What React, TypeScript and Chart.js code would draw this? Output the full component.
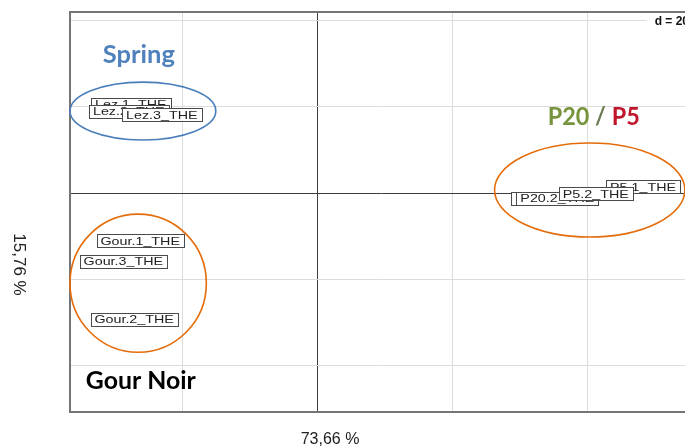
import React, { useEffect, useRef } from "react";
import { Chart, registerables } from "chart.js";

Chart.register(...registerables);

// ---- data ----
const sampleLabels = [
  "Lez.1_THE", "Lez.2_THE", "Lez.3_THE",
  "Gour.1_THE", "Gour.2_THE", "Gour.3_THE",
  "P20.1_THE", "P20.2_THE", "P5.1_THE", "P5.2_THE",
];
const xValues = [-27.6, -27.9, -23.0, -26.2, -27.1, -28.7, 34.8, 35.6, 48.3, 41.3];
const yValues = [20.6, 19.0, 18.1, -11.1, -29.2, -15.8, -1.2, -1.2, 1.4, -0.2];

const groupCenterX = [-25.8, -26.5, 40.4];
const groupCenterY = [19.0, -20.9, 0.7];
const groupRadiusX = [10.8, 10.1, 14.1];
const groupRadiusY = [6.7, 16.0, 10.9];
const groupColors = ["#4a7ebb", "#e46c0a", "#e46c0a"];

const titleTextX = [-26.4, -26.1, 41.0];
const titleTextY = [30.1, -45.4, 15.8];
const titleWidths = [72, 110, 92];
const titleSegments: [string, string][][] = [
  [["Spring", "#4f81bd"]],
  [["Gour Noir", "#000000"]],
  [["P20", "#77933c"], [" / ", "#6b7d52"], ["P5", "#c0162c"]],
];

const gridTicksX = [-20, 0, 20, 40];
const gridTicksY = [-40, -20, 0, 20, 40];
const xMin = -36.6, xMax = 55.7;
const yMin = -50.75, yMax = 41.95;

const xAxisTitle = "73,66 %";
const yAxisTitle = "15,76 %";
const gridLabel = "d = 20";

const LABEL_STRETCH = 1.3;

const overlayPlugin = {
  id: "overlay",
  beforeDatasetsDraw(chart: any) {
    const { ctx, chartArea } = chart;
    // d = 20 box at top right
    ctx.save();
    ctx.font = 'bold 12px "Liberation Sans", Arial, sans-serif';
    const tw = ctx.measureText(gridLabel).width;
    const yTop = chart.scales.y.getPixelForValue(40);
    const right = chartArea.right - 4;
    ctx.fillStyle = "#ffffff";
    ctx.fillRect(right - tw - 8, yTop - 6, tw + 10, 13);
    ctx.fillStyle = "#111";
    ctx.textAlign = "right";
    ctx.textBaseline = "middle";
    ctx.fillText(gridLabel, right, yTop + 1);
    ctx.restore();
  },
  afterDatasetsDraw(chart: any) {
    const { ctx, chartArea } = chart;
    const xs = chart.scales.x;
    const ys = chart.scales.y;
    const meta = chart.getDatasetMeta(0);
    ctx.save();
    // label boxes
    meta.data.forEach((pt: any, i: number) => {
      const text = sampleLabels[i];
      ctx.font = '11px "Liberation Sans", Arial, sans-serif';
      const w = ctx.measureText(text).width * LABEL_STRETCH;
      const bw = Math.round(w + 8);
      const bh = 13;
      const x0 = Math.round(pt.x - bw / 2) + 0.5;
      const y0 = Math.round(pt.y - bh / 2) + 0.5;
      ctx.fillStyle = "#ffffff";
      ctx.fillRect(x0, y0, bw, bh);
      ctx.strokeStyle = "#4a4a4a";
      ctx.lineWidth = 1;
      ctx.strokeRect(x0, y0, bw, bh);
      ctx.save();
      ctx.translate(pt.x, pt.y);
      ctx.scale(LABEL_STRETCH, 1);
      ctx.textAlign = "center";
      ctx.textBaseline = "middle";
      ctx.fillStyle = "#222";
      ctx.fillText(text, 0, 1);
      ctx.restore();
    });
    // frame
    ctx.strokeStyle = "#757575";
    ctx.lineWidth = 2;
    ctx.strokeRect(chartArea.left, chartArea.top, chartArea.right - chartArea.left, chartArea.bottom - chartArea.top);
    // ellipses
    groupCenterX.forEach((cxv, i) => {
      const cx = xs.getPixelForValue(cxv);
      const cy = ys.getPixelForValue(groupCenterY[i]);
      const rx = Math.abs(xs.getPixelForValue(cxv + groupRadiusX[i]) - cx);
      const ry = Math.abs(ys.getPixelForValue(groupCenterY[i] + groupRadiusY[i]) - cy);
      ctx.beginPath();
      ctx.ellipse(cx, cy, rx, ry, 0, 0, Math.PI * 2);
      ctx.strokeStyle = groupColors[i];
      ctx.lineWidth = 1.6;
      ctx.stroke();
    });
    // group titles
    titleSegments.forEach((segs, i) => {
      ctx.font = 'bold 25px Lato, "Open Sans", sans-serif';
      const widths = segs.map((s) => ctx.measureText(s[0]).width);
      const total = widths.reduce((a, b) => a + b, 0);
      const sx = titleWidths[i] / total;
      const cx = xs.getPixelForValue(titleTextX[i]);
      const by = ys.getPixelForValue(titleTextY[i]);
      ctx.save();
      ctx.translate(cx - titleWidths[i] / 2, by);
      ctx.scale(sx, 1);
      ctx.textAlign = "left";
      ctx.textBaseline = "alphabetic";
      let off = 0;
      segs.forEach((s, k) => {
        ctx.fillStyle = s[1];
        ctx.fillText(s[0], off, 0);
        off += widths[k];
      });
      ctx.restore();
    });
    // axis titles
    ctx.fillStyle = "#222";
    ctx.font = '16px "Liberation Sans", Arial, sans-serif';
    ctx.textAlign = "center";
    ctx.textBaseline = "middle";
    ctx.fillText(xAxisTitle, 330, 440);
    ctx.save();
    ctx.translate(18.5, 264.5);
    ctx.rotate(Math.PI / 2);
    ctx.font = '17px "Liberation Sans", Arial, sans-serif';
    ctx.fillText(yAxisTitle, 0, 0);
    ctx.restore();
    ctx.restore();
  },
};

const gridColor = (c: any) => (c.tick && c.tick.value === 0 ? "#3c3c3c" : "#dcdcdc");

export default function App() {
  const ref = useRef<HTMLCanvasElement>(null);
  useEffect(() => {
    if (!ref.current) return;
    const chart = new Chart(ref.current, {
      type: "scatter",
      data: {
        datasets: [
          {
            data: xValues.map((x, i) => ({ x, y: yValues[i] })),
            pointRadius: 0,
            pointHoverRadius: 0,
          },
        ],
      },
      options: {
        responsive: false,
        animation: false,
        events: [],
        layout: { padding: { left: 70, top: 12, right: 7, bottom: 36 } },
        plugins: { legend: { display: false }, tooltip: { enabled: false } },
        scales: {
          x: {
            type: "linear",
            min: xMin,
            max: xMax,
            afterBuildTicks: (axis: any) => {
              axis.ticks = gridTicksX.map((v) => ({ value: v }));
            },
            ticks: { display: false },
            grid: { color: gridColor, lineWidth: 1, drawTicks: false },
            border: { display: false },
          },
          y: {
            type: "linear",
            min: yMin,
            max: yMax,
            afterBuildTicks: (axis: any) => {
              axis.ticks = gridTicksY.map((v) => ({ value: v }));
            },
            ticks: { display: false },
            grid: { color: gridColor, lineWidth: 1, drawTicks: false },
            border: { display: false },
          },
        },
      },
      plugins: [overlayPlugin],
    });
    return () => chart.destroy();
  }, []);
  return (
    <div
      style={{
        position: "fixed",
        left: 0,
        top: 0,
        width: 685,
        height: 448,
        overflow: "hidden",
        background: "#ffffff",
      }}
    >
      <canvas ref={ref} width={700} height={448} style={{ display: "block" }} />
    </div>
  );
}
